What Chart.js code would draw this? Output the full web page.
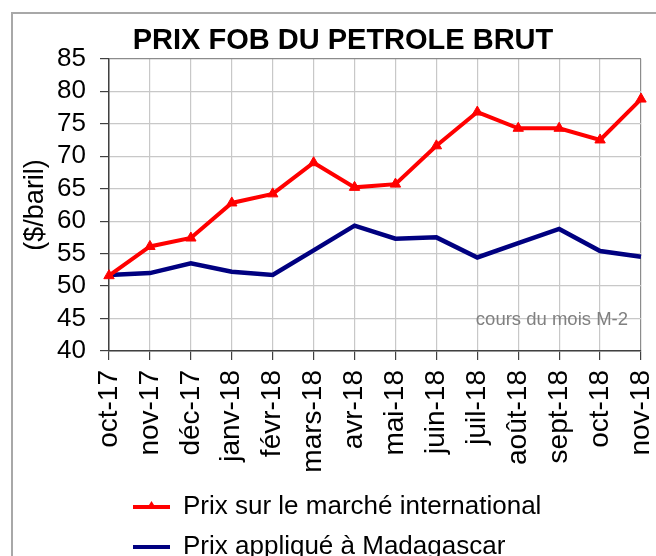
<!DOCTYPE html>
<html>
<head>
<meta charset="utf-8">
<script src="https://cdn.jsdelivr.net/npm/chart.js@4.4.0/dist/chart.umd.min.js"></script>
<style>
  html, body { margin: 0; padding: 0; background: #fff; overflow: hidden; width: 656px; height: 556px; }
  #frame { position: absolute; left: 11px; top: 12px; width: 700px; height: 600px; border: 2px solid #a8a8a8; }
  #chart { position: absolute; left: 0; top: 0; }
</style>
</head>
<body>
<div id="frame"></div>
<canvas id="chart" width="686" height="570"></canvas>
<script>
// data
const months = ['oct-17', 'nov-17', 'déc-17', 'janv-18', 'févr-18', 'mars-18', 'avr-18',
                'mai-18', 'juin-18', 'juil-18', 'août-18', 'sept-18', 'oct-18', 'nov-18'];
const prixInternational = [51.6, 56.1, 57.4, 62.8, 64.2, 69.0, 65.2, 65.7, 71.6, 76.8, 74.3, 74.3, 72.5, 78.8];
const prixMadagascar = [51.7, 52.0, 53.5, 52.2, 51.7, 55.5, 59.3, 57.3, 57.5, 54.4, 56.6, 58.8, 55.4, 54.5];
const yMin = 40, yMax = 85, yStep = 5;

Chart.defaults.font.family = '"Liberation Sans", Arial, sans-serif';
Chart.defaults.color = '#000';

// small note inside the plot + triangle on the legend line
const extras = {
    id: 'extras',
    afterLayout(chart) {
        // title is centred on the whole frame, legend rows start right of the axis
        chart.titleBlock.right = chart.width;
        chart.titleBlock.width = chart.width;
        chart.legend.left += 10;
    },
    afterDraw(chart) {
        const ctx = chart.ctx;
        const area = chart.chartArea;
        ctx.save();
        ctx.font = '18.5px "Liberation Sans", Arial, sans-serif';
        ctx.fillStyle = '#808080';
        ctx.textAlign = 'right';
        ctx.textBaseline = 'middle';
        ctx.fillText('cours du mois M-2', area.right - 13, chart.scales.y.getPixelForValue(44.8));

        const box = chart.legend.legendHitBoxes[0];
        if (box) {
            const cx = box.left + 18.5;
            const cy = box.top + 13;
            ctx.fillStyle = '#ff0000';
            ctx.beginPath();
            ctx.moveTo(cx, cy - 6);
            ctx.lineTo(cx + 5, cy + 2);
            ctx.lineTo(cx - 5, cy + 2);
            ctx.closePath();
            ctx.fill();
        }
        ctx.restore();
    }
};

const ctx = document.getElementById('chart').getContext('2d');
const chart = new Chart(ctx, {
    type: 'line',
    data: {
        labels: months,
        datasets: [{
            label: 'Prix sur le marché international',
            data: prixInternational,
            borderColor: '#ff0000',
            backgroundColor: '#ff0000',
            borderWidth: 4,
            pointStyle: 'triangle',
            pointRadius: 6,
            pointBackgroundColor: '#ff0000',
            pointBorderColor: '#ff0000',
            pointBorderWidth: 1,
            tension: 0
        }, {
            label: 'Prix appliqué à Madagascar',
            data: prixMadagascar,
            borderColor: '#000080',
            backgroundColor: '#000080',
            borderWidth: 4.5,
            pointRadius: 0,
            tension: 0
        }]
    },
    options: {
        responsive: false,
        animation: false,
        layout: { padding: { left: 0, right: 45, top: 0, bottom: 0 } },
        plugins: {
            title: {
                display: true,
                text: 'PRIX FOB DU PETROLE BRUT',
                font: { size: 29, weight: 'bold' },
                color: '#000',
                padding: { top: 24, bottom: 0 }
            },
            legend: {
                position: 'bottom',
                align: 'start',
                fullSize: false,
                labels: {
                    font: { size: 26 },
                    color: '#000',
                    boxWidth: 37,
                    boxHeight: 4,
                    padding: 14,
                    generateLabels(chart) {
                        return Chart.defaults.plugins.legend.labels.generateLabels(chart)
                            .map(item => Object.assign(item, { lineWidth: 0 }));
                    }
                }
            },
            tooltip: { enabled: false }
        },
        scales: {
            x: {
                offset: false,
                afterFit(scale) { scale.height = 129; },
                grid: {
                    color: c => c.index === months.length - 1 ? '#8c8c8c' : '#c8c8c8',
                    lineWidth: 1.2,
                    tickColor: '#404040',
                    tickLength: 9
                },
                border: { color: '#404040', width: 1.5 },
                ticks: {
                    autoSkip: false,
                    maxRotation: 90,
                    minRotation: 90,
                    padding: 10,
                    font: { size: 28 },
                    color: '#000'
                }
            },
            y: {
                min: yMin,
                max: yMax,
                afterFit(scale) { scale.width = 109; },
                grid: {
                    color: c => c.tick && c.tick.value === yMax ? '#8c8c8c' : '#c8c8c8',
                    lineWidth: 1.2,
                    tickColor: '#404040',
                    tickLength: 9
                },
                border: { color: '#404040', width: 1.5 },
                ticks: {
                    autoSkip: false,
                    stepSize: yStep,
                    padding: 14,
                    font: { size: 26 },
                    color: '#000'
                },
                title: {
                    display: true,
                    text: '($/baril)',
                    font: { size: 27 },
                    color: '#000',
                    padding: { top: 19, bottom: 0 }
                }
            }
        }
    },
    plugins: [extras]
});
</script>
</body>
</html>
